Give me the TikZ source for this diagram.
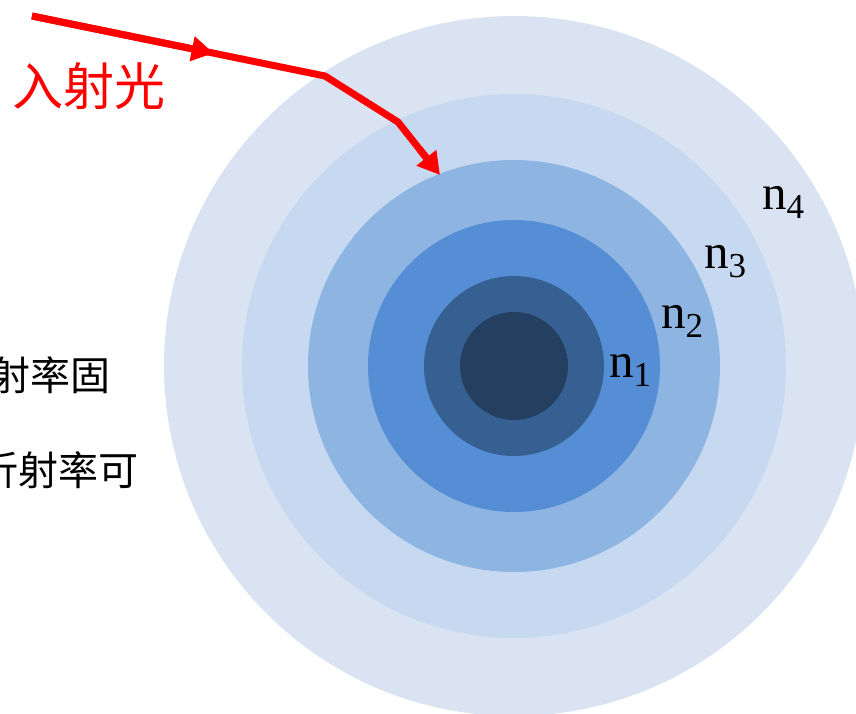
\documentclass[tikz,border=0pt]{standalone}
\usepackage{fontspec}
\setmainfont{Liberation Serif}
\newfontfamily\cjk{Noto Sans CJK SC}
\usetikzlibrary{arrows.meta,calc}
\definecolor{ringA}{HTML}{DAE3F1}
\definecolor{ringB}{HTML}{C6D9F0}
\definecolor{ringC}{HTML}{8EB4E2}
\definecolor{ringD}{HTML}{558ED5}
\definecolor{ringE}{HTML}{366092}
\definecolor{ringF}{HTML}{243F60}
\tikzset{
  ring/.style={draw=none,fill=#1},
  ray/.style={draw=red,line width=7pt,line join=miter},
  rayhead/.style={-{Triangle[length=22pt,width=24pt]}},
  nlabel/.style={inner sep=0pt,anchor=base west,font=\fontsize{49}{49}\selectfont},
  cjktext/.style={inner sep=0pt,font=\cjk\fontsize{40}{40}\selectfont},
}
\newcommand{\nidx}[1]{n\raisebox{-0.2em}{\fontsize{35}{35}\selectfont #1}}
\begin{document}
\begin{tikzpicture}[x=1pt,y=-1pt]
\useasboundingbox (0,0) rectangle (856,713);
\coordinate (c) at (514,366);
\fill[ring=ringA] (c) circle[radius=350];
\fill[ring=ringB] (c) circle[radius=272];
\fill[ring=ringC] (c) circle[radius=206];
\fill[ring=ringD] (c) circle[radius=146];
\fill[ring=ringE] (c) circle[radius=90];
\fill[ring=ringF] (c) circle[radius=54];
\node[nlabel] (n1) at (609,377) {\nidx{1}};
\node[nlabel] (n2) at (661,328) {\nidx{2}};
\node[nlabel] (n3) at (704,268) {\nidx{3}};
\node[nlabel] (n4) at (762,209) {\nidx{4}};
\coordinate (s) at (32,16);
\coordinate (b1) at (325,76);
\coordinate (b2) at (398,122);
\coordinate (e) at (440,175);
\draw[ray] (s) -- (b1) -- (b2) -- ($(b2)!0.75!(e)$);
\draw[ray,rayhead] ($(b2)!0.5!(e)$) -- (e);
\draw[ray,rayhead] (s) -- ($(s)!0.62!(b1)$);
\node[cjktext,text=red,anchor=west,font=\cjk\fontsize{51}{51}\selectfont] (inc) at (12,86) {入射光};
\node[cjktext,anchor=east] (t1) at (111,375) {射率固};
\node[cjktext,anchor=east] (t2) at (139,470) {折射率可};
\end{tikzpicture}
\end{document}
